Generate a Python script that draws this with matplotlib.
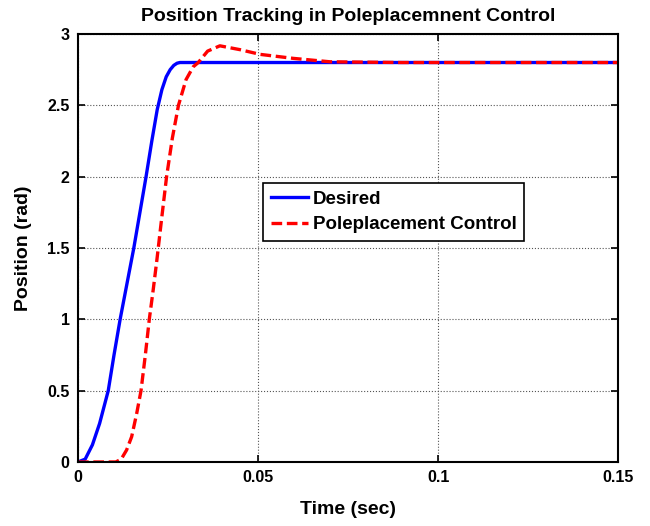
import numpy as np
import matplotlib.pyplot as plt

# === data ===
t_desired = [0, 0.002, 0.004, 0.006, 0.0084, 0.0100, 0.0117, 0.0136, 0.0155, 0.0172,
             0.0189, 0.0205, 0.0220, 0.0233, 0.0245, 0.0256, 0.0266, 0.0275, 0.0283, 0.15]
y_desired = [0, 0.02, 0.12, 0.27, 0.50, 0.75, 1.00, 1.25, 1.50, 1.75,
             2.00, 2.25, 2.47, 2.61, 2.70, 2.75, 2.78, 2.795, 2.80, 2.80]

t_control = [0, 0.0105, 0.0120, 0.0135, 0.0149, 0.0163, 0.0175, 0.0187, 0.0198, 0.0209,
             0.0219, 0.0232, 0.0246, 0.0262, 0.0279, 0.0300, 0.0320, 0.0334, 0.0360,
             0.0394, 0.0450, 0.0506, 0.0598, 0.0700, 0.0900, 0.15]
y_control = [0, 0, 0.02, 0.084, 0.177, 0.34, 0.50, 0.75, 1.00, 1.21,
             1.415, 1.70, 2.00, 2.27, 2.50, 2.68, 2.77, 2.80, 2.88,
             2.917, 2.89, 2.857, 2.829, 2.805, 2.80, 2.80]

x_ticks = [0, 0.05, 0.1, 0.15]
x_tick_labels = ['0', '0.05', '0.1', '0.15']
y_ticks = [0, 0.5, 1, 1.5, 2, 2.5, 3]
y_tick_labels = ['0', '0.5', '1', '1.5', '2', '2.5', '3']

plt.rcParams['font.family'] = ['Liberation Sans', 'DejaVu Sans']
plt.rcParams['font.weight'] = 'bold'

fig = plt.figure(figsize=(6.5, 5.26), dpi=100)
ax = fig.add_axes([0.12, 0.1217, 0.831, 0.8137])

ax.plot(t_desired, y_desired, color='#0000ff', lw=2.4, label='Desired')
ax.plot(t_control, y_control, color='#ff0000', lw=2.4, ls=(0, (3.2, 1.4)),
        label='Poleplacement Control')

ax.set_xlim(0, 0.15)
ax.set_ylim(0, 3)
ax.set_xticks(x_ticks)
ax.set_xticklabels(x_tick_labels)
ax.set_yticks(y_ticks)
ax.set_yticklabels(y_tick_labels)
ax.tick_params(direction='in', labelsize=11.5, width=1.2, length=5, top=True, right=True, pad=6)
for lbl in ax.get_xticklabels() + ax.get_yticklabels():
    lbl.set_fontweight('bold')
for sp in ax.spines.values():
    sp.set_linewidth(1.5)
ax.grid(True, color='#555555', ls=':', lw=0.8)

ax.set_title('Position Tracking in Poleplacemnent Control', fontsize=14, fontweight='bold', pad=9)
ax.set_xlabel('Time (sec)', fontsize=14, fontweight='bold', labelpad=11)
ax.set_ylabel('Position (rad)', fontsize=14, fontweight='bold', labelpad=11)

leg = ax.legend(loc='upper left', bbox_to_anchor=(0.343, 0.652), fontsize=13.5,
                fancybox=False, edgecolor='black', framealpha=1, handlelength=2.0,
                borderpad=0.4, labelspacing=0.45, handletextpad=0.25, borderaxespad=0)
leg.get_frame().set_linewidth(1.2)
for txt in leg.get_texts():
    txt.set_fontweight('bold')

fig.savefig('out.png', dpi=100)
